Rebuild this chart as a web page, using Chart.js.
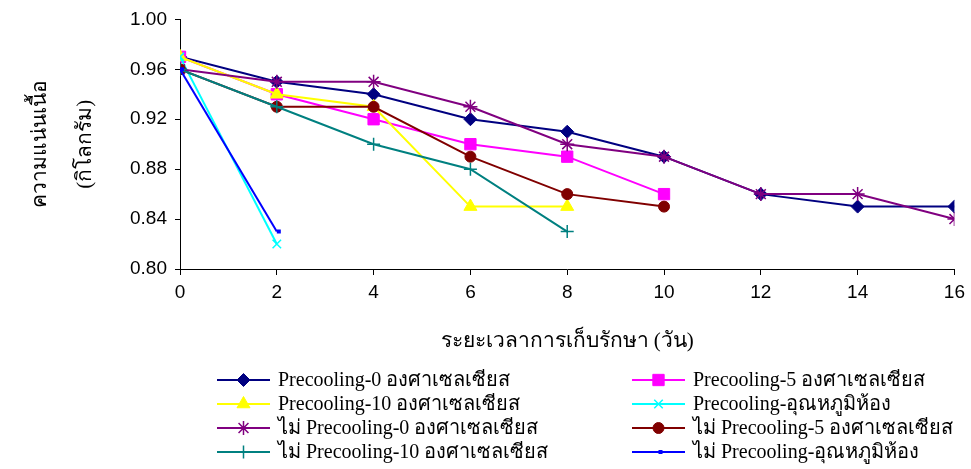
<!DOCTYPE html>
<html>
<head>
<meta charset="utf-8">
<script src="https://cdn.jsdelivr.net/npm/chart.js@4/dist/chart.umd.min.js"></script>
<style>
  html, body { margin: 0; padding: 0; background: #fff; }
  #wrap { width: 971px; height: 469px; }
</style>
</head>
<body>
<div id="wrap"><canvas id="myChart" width="971" height="469"></canvas></div>
<script>
// days of storage (x axis)
const days = [0, 2, 4, 6, 8, 10, 12, 14, 16]
const xTicks = [0, 2, 4, 6, 8, 10, 12, 14, 16]
const yTicks = [0.80, 0.84, 0.88, 0.92, 0.96, 1.00]

const seriesLabels = [
    'Precooling-0 องศาเซลเซียส',
    'Precooling-5 องศาเซลเซียส',
    'Precooling-10 องศาเซลเซียส',
    'Precooling-อุณหภูมิห้อง',
    'ไม่ Precooling-0 องศาเซลเซียส',
    'ไม่ Precooling-5 องศาเซลเซียส',
    'ไม่ Precooling-10 องศาเซลเซียส',
    'ไม่ Precooling-อุณหภูมิห้อง'
]

// firmness (kg), one value per day until the series stops
const pre0 = [0.97, 0.95, 0.94, 0.92, 0.91, 0.89, 0.86, 0.85, 0.85]
const pre5 = [0.97, 0.94, 0.92, 0.90, 0.89, 0.86]
const pre10 = [0.97, 0.94, 0.93, 0.85, 0.85]
const preRoom = [0.97, 0.82]
const no0 = [0.96, 0.95, 0.95, 0.93, 0.90, 0.89, 0.86, 0.86, 0.84]
const no5 = [0.96, 0.93, 0.93, 0.89, 0.86, 0.85]
const no10 = [0.96, 0.93, 0.90, 0.88, 0.83]
const noRoom = [0.96, 0.83]

const seriesValues = [pre0, pre5, pre10, preRoom, no0, no5, no10, noRoom]
const colors = ['#000080', '#FF00FF', '#FFFF00', '#00FFFF', '#800080', '#800000', '#008080', '#0000FF']
const markers = ['rectRot', 'rect', 'triangle', 'crossRot', 'star', 'circle', 'cross', 'dash']
const markerSize = [6.5, 8, 7.5, 6, 7, 5.5, 6.5, 4]
const markerBorder = [1, 1, 1, 1.5, 1.5, 1, 1.5, 4]

function toPoints(vals) {
    return vals.map((v, i) => ({x: days[i], y: v}))
}

// legend in two columns like the original
const gridLegend = {
    id: 'gridLegend',
    afterDraw(chart) {
        const ctx = chart.ctx
        ctx.save()
        chart.data.datasets.forEach((ds, i) => {
            const col = i % 2
            const row = Math.floor(i / 2)
            const x0 = col === 0 ? 217 : 632
            const y = 380 + row * 24
            ctx.strokeStyle = ds.borderColor
            ctx.lineWidth = 2
            ctx.beginPath()
            ctx.moveTo(x0, y)
            ctx.lineTo(x0 + 53, y)
            ctx.stroke()
            ctx.fillStyle = ds.pointBackgroundColor
            ctx.strokeStyle = ds.pointBorderColor
            ctx.lineWidth = ds.pointBorderWidth
            Chart.helpers.drawPoint(ctx, {pointStyle: ds.pointStyle, radius: ds.pointRadius, borderWidth: ds.pointBorderWidth, rotation: 0}, x0 + 26.5, y)
            ctx.fillStyle = '#000'
            ctx.font = '20px "Liberation Serif", "Times New Roman", serif'
            ctx.textBaseline = 'middle'
            ctx.textAlign = 'left'
            ctx.fillText(ds.label, x0 + 61, y + 1)
        })
        ctx.restore()
    }
}

function drawChart() {
    const ctx = document.getElementById('myChart')

    const datasets = seriesValues.map((vals, i) => ({
        label: seriesLabels[i],
        data: toPoints(vals),
        borderColor: colors[i],
        backgroundColor: colors[i],
        borderWidth: 2,
        tension: 0,
        pointStyle: markers[i],
        pointRadius: markerSize[i],
        pointBackgroundColor: colors[i],
        pointBorderColor: colors[i],
        pointBorderWidth: markerBorder[i],
        order: seriesValues.length - i
    }))

    const config = {
        type: 'line',
        data: {datasets: datasets},
        plugins: [gridLegend],
        options: {
            responsive: false,
            animation: false,
            layout: {padding: {top: 18, right: 14, left: 0, bottom: 0}},
            plugins: {legend: {display: false}, tooltip: {enabled: false}},
            scales: {
                x: {
                    type: 'linear',
                    min: 0, max: 16,
                    afterBuildTicks: s => { s.ticks = xTicks.map(v => ({value: v})) },
                    afterFit: s => { s.height = 200 },
                    grid: {drawOnChartArea: false, color: '#000', tickLength: 6},
                    border: {color: '#000', width: 1},
                    ticks: {color: '#000', padding: 6, font: {family: '"Liberation Sans", Arial, sans-serif', size: 19}, maxRotation: 0},
                    title: {
                        display: true,
                        text: 'ระยะเวลาการเก็บรักษา (วัน)',
                        color: '#000',
                        font: {family: '"Liberation Serif", serif', size: 21},
                        padding: {top: 0, bottom: 115}
                    }
                },
                y: {
                    min: 0.80, max: 1.00,
                    afterBuildTicks: s => { s.ticks = yTicks.map(v => ({value: v})) },
                    afterFit: s => { s.width = 180 },
                    grid: {drawOnChartArea: false, color: '#000', tickLength: 5},
                    border: {color: '#000', width: 1},
                    ticks: {color: '#000', padding: 8, font: {family: '"Liberation Sans", Arial, sans-serif', size: 19},
                        callback: v => v.toFixed(2)},
                    title: {
                        display: true,
                        text: ['ความแน่นเนื้อ', '(กิโลกรัม)'],
                        color: '#000',
                        font: {family: '"Liberation Serif", serif', size: 21, lineHeight: '45px'},
                        padding: {top: 18, bottom: 0}
                    }
                }
            }
        }
    }

    new Chart(ctx, config)
}

document.addEventListener('DOMContentLoaded', drawChart)
</script>
</body>
</html>
